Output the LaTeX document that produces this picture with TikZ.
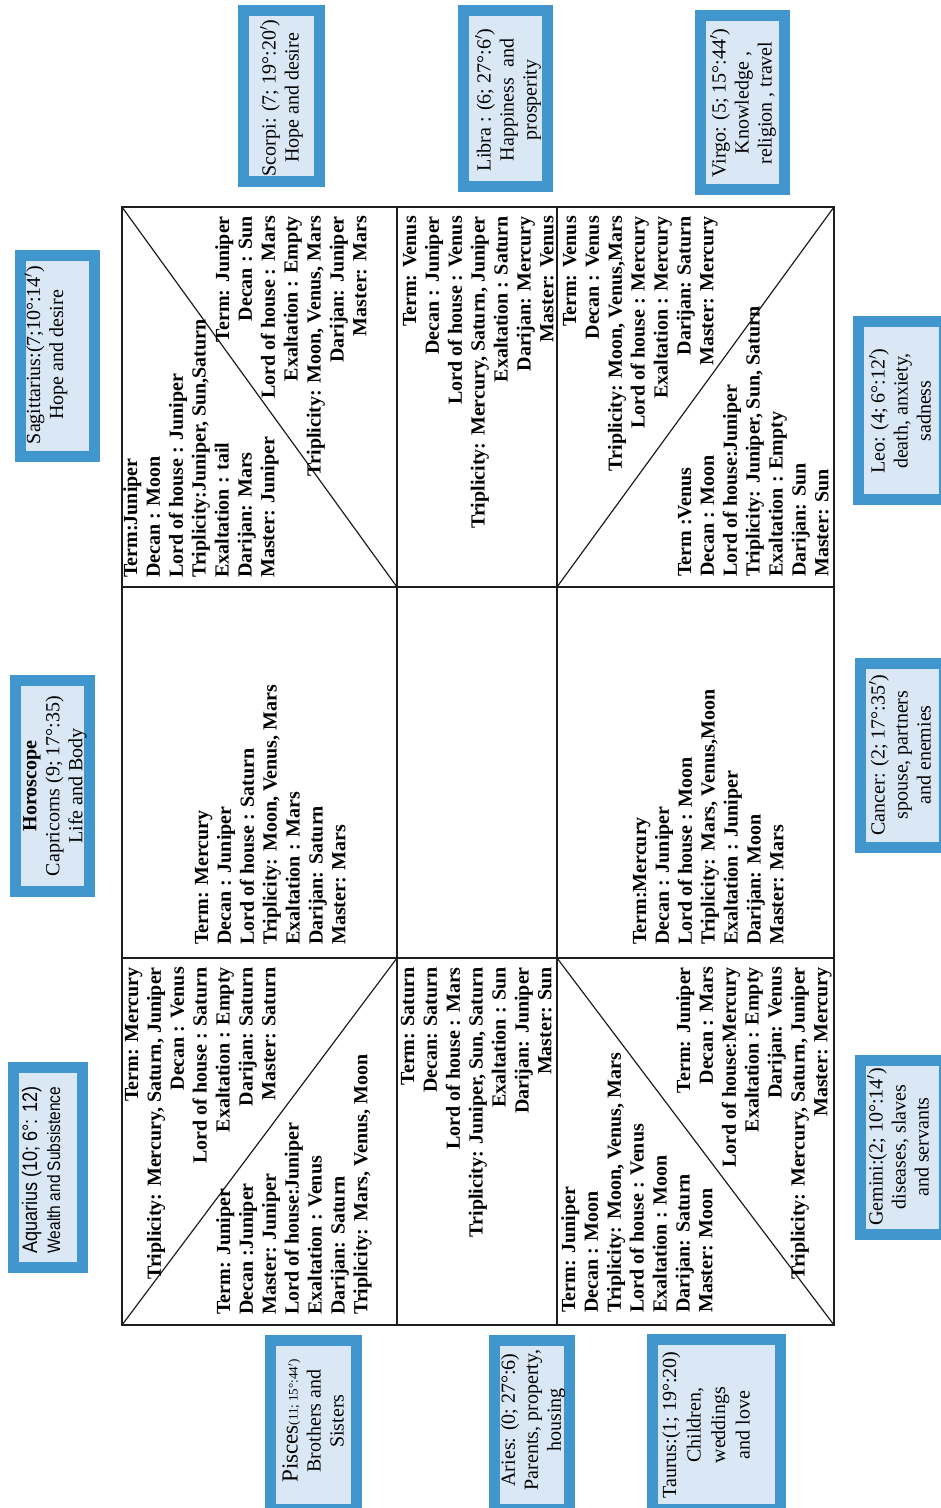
\documentclass[tikz,border=0pt]{standalone}
\usepackage{fontspec}
\setmainfont{Liberation Serif}
\newfontfamily\narrowsans[FakeStretch=0.86]{Liberation Sans}
\definecolor{boxblue}{HTML}{4096CD}
\definecolor{boxfill}{HTML}{DAE8F5}
\definecolor{gridc}{HTML}{1E1E1E}
\newcommand\linesL[4]{\foreach \txt [count=\i] in {#4}{\node[lft] (#1-\i) at ({#2+(\i-1)*22.9},{-#3}) {\txt};}}
\newcommand\linesR[4]{\foreach \txt [count=\i] in {#4}{\node[rgt] (#1-\i) at ({#2+(\i-1)*22.9},{-#3}) {\txt};}}
\begin{document}
\begin{tikzpicture}[x=1pt,y=1pt,
  tline/.style={rotate=90, inner sep=0pt, font=\bfseries\fontsize{20}{23}\selectfont},
  lft/.style={tline, anchor=base west},
  rgt/.style={tline, anchor=base east},
  zbox/.style={draw=boxblue, fill=boxfill, line width=11pt, inner sep=0pt},
  btxt/.style={rotate=90, align=center, inner sep=0pt, font=\fontsize{20}{23}\selectfont},
  gridline/.style={draw=gridc, line width=1.5pt},
  diag/.style={draw=gridc, line width=1.2pt}]
\useasboundingbox (0,0) rectangle (941,-1508);
% ---------- boxes ----------
\node[zbox, minimum width=76, minimum height=171] (scorpiBox) at (281.5,-96) {};
\node[zbox, minimum width=84, minimum height=176] (libraBox) at (505.5,-98.5) {};
\node[zbox, minimum width=84, minimum height=174] (virgoBox) at (742.5,-102.5) {};
\node[zbox, minimum width=74, minimum height=201] (sagBox) at (57.5,-356) {};
\node[zbox, minimum width=86, minimum height=178] (leoBox) at (901.5,-410.5) {};
\node[zbox, minimum width=84, minimum height=184] (cancerBox) at (902.5,-755) {};
\node[zbox, minimum width=84, minimum height=174] (geminiBox) at (902.5,-1147.5) {};
\node[zbox, minimum width=74, minimum height=211] (horoBox) at (52.5,-786) {};
\node[zbox, minimum width=69, minimum height=200] (aquaBox) at (48,-1167.5) {};
\node[zbox, minimum width=86, minimum height=169] (piscesBox) at (313.5,-1425) {};
\node[zbox, minimum width=75, minimum height=169] (ariesBox) at (532,-1425) {};
\node[zbox, minimum width=128, minimum height=170] (taurusBox) at (716.5,-1424.5) {};
% ---------- box texts ----------
\node[btxt] (scorpi) at (281.5,-98) {Scorpi: (7; 19°:20$'$)\\Hope and desire};
\node[btxt] (libra) at (508,-100) {Libra : (6; 27°:6$'$)\\Happiness\ \ and\\prosperity};
\node[btxt] (virgo) at (743,-103) {Virgo: (5; 15°:44$'$)\\Knowledge ,\\religion , travel};
\node[btxt] (sag) at (46,-355) {Sagittarius:(7;10°:14$'$)\\Hope and desire};
\node[btxt] (horo) at (55,-786) {\textbf{Horoscope}\\Capricorns (9; 17°:35)\\Life and Body};
\node[btxt] (aqua) at (41,-1170) {{\narrowsans\fontsize{21}{21}\selectfont Aquarius (10; 6°: 12)}\\{\narrowsans\fontsize{18}{20}\selectfont Wealth and Subsistence}};
\node[btxt] (leo) at (900,-411) {Leo: (4; 6°:12$'$)\\death, anxiety,\\sadness};
\node[btxt] (cancer) at (900,-755) {Cancer: (2; 17°:35$'$)\\spouse, partners\\and enemies};
\node[btxt] (gemini) at (898,-1147) {Gemini:(2; 10°:14$'$)\\diseases, slaves\\and servants};
\node[btxt] (pisces) at (313,-1421) {{\fontsize{23}{23}\selectfont Pisces}{\fontsize{13}{13}\selectfont (11; 15°:44$'$)}\\Brothers and\\Sisters};
\node[btxt] (aries) at (533,-1420) {Aries: (0; 27°:6)\\Parents, property,\\housing};
\node[btxt, font=\fontsize{20}{24.5}\selectfont] (taurus) at (706,-1425) {Taurus:(1; 19°:20)\\Children,\\weddings\\and love};
% ---------- grid ----------
\foreach \c/\xv in {a/122,b/397,c/557,d/834}
  \foreach \r/\yv in {1/207,2/587,3/958,4/1325}
    \coordinate (\c\r) at (\xv,-\yv);
\draw[gridline] (a1) rectangle (d4);
\draw[gridline] (b1) -- (b4);
\draw[gridline] (c1) -- (c4);
\draw[gridline] (a2) -- (d2);
\draw[gridline] (a3) -- (d3);
\draw[diag] (a1) -- (b2);
\draw[diag] (d1) -- (c2);
\draw[diag] (b3) -- (a4);
\draw[diag] (c3) -- (d4);
% ---------- cell texts ----------
\linesL{tlL}{137}{578}{Term:Juniper, Decan : Moon, Lord of house : Juniper, {Triplicity:Juniper, Sun,Saturn}, Exaltation : tail, Darijan: Mars, Master: Juniper}
\linesR{tlR}{229}{216}{Term: Juniper, Decan : Sun, Lord of house : Mars, Exaltation : Empty, {Triplicity: Moon, Venus, Mars}, Darijan: Juniper, Master: Mars}
\linesR{tm}{416}{216}{Term: Venus, Decan : Juniper, Lord of house : Venus, {Triplicity: Mercury, Saturn, Juniper}, Exaltation : Saturn, Darijan: Mercury, Master: Venus}
\linesR{trL}{576}{216}{Term: Venus, Decan : Venus, {Triplicity: Moon, Venus,Mars}, Lord of house : Mercury, Exaltation : Mercury, Darijan: Saturn, Master: Mercury}
\linesL{trR}{691}{577}{Term :Venus, Decan : Moon, Lord of house:Juniper, {Triplicity: Juniper, Sun, Saturn}, Exaltation : Empty, Darijan: Sun, Master: Sun}
\linesL{ml}{208}{945}{Term: Mercury, Decan : Juniper, Lord of house : Saturn, {Triplicity: Moon, Venus, Mars}, Exaltation : Mars, Darijan: Saturn, Master: Mars}
\linesL{mr}{646}{945}{Term:Mercury, Decan : Juniper, Lord of house : Moon, {Triplicity: Mars, Venus,Moon}, Exaltation : Juniper, Darijan: Moon, Master: Mars}
\linesR{blL}{138}{967}{Term: Mercury, {Triplicity: Mercury, Saturn, Juniper}, Decan : Venus, Lord of house : Saturn, Exaltation : Empty, Darijan: Saturn, Master: Saturn}
\linesL{blR}{230}{1315}{Term: Juniper, Decan :Juniper, Master: Juniper, Lord of house:Juniper, Exaltation : Venus, Darijan: Saturn, {Triplicity: Mars, Venus, Moon}}
\linesR{bm}{414}{967}{Term: Saturn, Decan: Saturn, Lord of house : Mars, {Triplicity: Juniper, Sun, Saturn}, Exaltation : Sun, Darijan: Juniper, Master: Sun}
\linesL{brL}{575}{1313}{Term: Juniper, Decan : Moon, {Triplicity: Moon, Venus, Mars}, Lord of house : Venus, Exaltation : Moon, Darijan: Saturn, Master: Moon}
\linesR{brR}{690}{967}{Term: Juniper, Decan : Mars, Lord of house:Mercury, Exaltation : Empty, Darijan: Venus, {Triplicity: Mercury, Saturn, Juniper}, Master: Mercury}
\end{tikzpicture}
\end{document}
